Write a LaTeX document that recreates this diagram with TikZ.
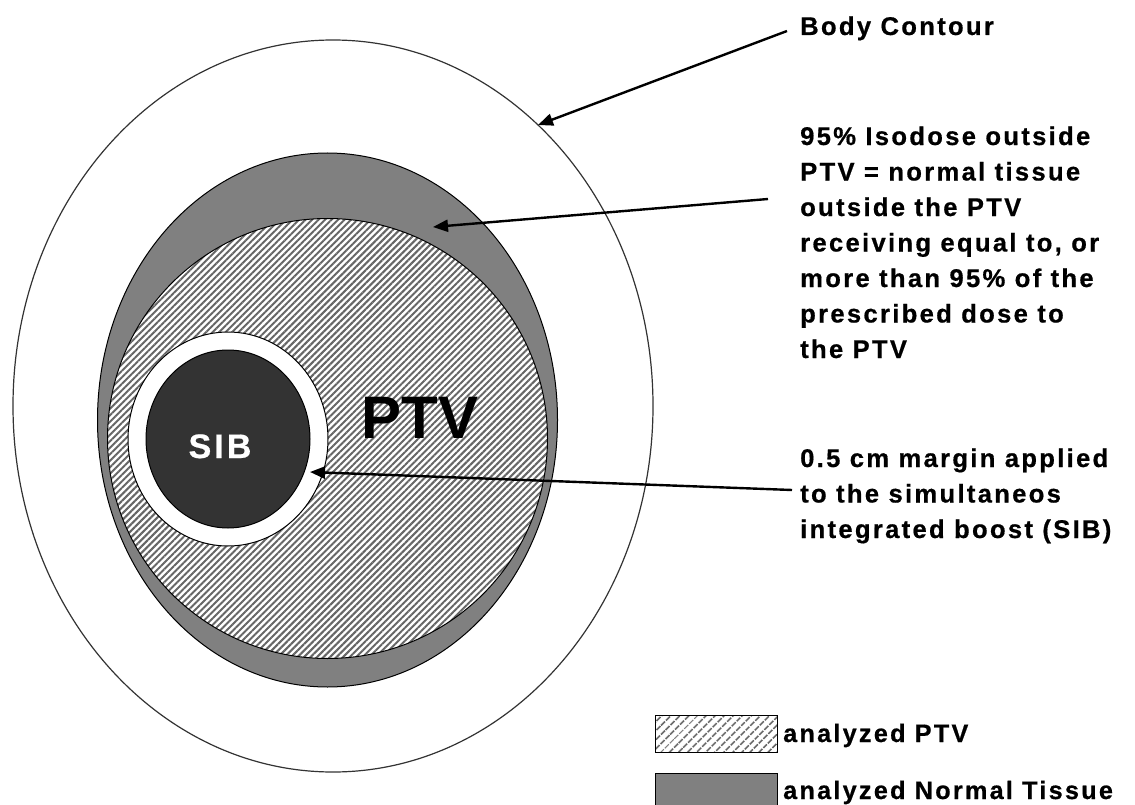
\documentclass[tikz,border=0pt]{standalone}
\usepackage{fontspec}
\setmainfont{Liberation Sans}
\newfontfamily\lblfont[LetterSpace=9, FakeBold=0.6]{Liberation Sans}
\usetikzlibrary{arrows.meta, patterns.meta, positioning}

\definecolor{isogray}{gray}{0.5}
\definecolor{sibgray}{gray}{0.2}

\begin{document}
\begin{tikzpicture}[
    x=1pt, y=-1pt,
    contour/.style={draw=black, line width=1pt},
    hatch/.style={preaction={fill=white},
                  pattern={Lines[angle=45, distance=4.6pt, line width=2pt]},
                  pattern color=black!60},
    leghatch/.style={preaction={fill=white},
                  pattern={Lines[angle=45, distance=6.4pt, line width=1.8pt]},
                  pattern color=black!60},
    lbl/.style={anchor=base west, inner sep=0pt, align=left,
                font=\lblfont\bfseries\fontsize{25.6}{35.5}\selectfont},
    leglbl/.style={anchor=base west, inner sep=0pt,
                font=\lblfont\bfseries\fontsize{25.2}{30}\selectfont},
    legbox/.style={draw=black, line width=1pt, minimum width=122pt,
                minimum height=37pt, inner sep=0pt, anchor=north west},
    arr/.style={-{Triangle[length=15pt, width=12pt]}, line width=2.4pt},
  ]
    \useasboundingbox (0,0) rectangle (1135,805);
    \draw[contour, draw=black!80, line width=1.2pt, fill=white]
      (333,406) ellipse [x radius=320, y radius=366];
    \draw[contour, fill=isogray] (327.5,420) ellipse [x radius=230, y radius=267];
    \draw[contour, hatch] (327.5,438.5) circle [radius=220];
    \draw[contour, fill=white] (228,439) ellipse [x radius=100, y radius=107];
    \draw[contour, fill=sibgray] (228,439) ellipse [x radius=82, y radius=89];
    \node[anchor=base, inner sep=0pt, font=\bfseries\fontsize{60}{60}\selectfont]
      (ptv) at (420,438) {PTV};
    \node[anchor=base, inner sep=0pt, text=white,
          font=\lblfont\bfseries\fontsize{34}{34}\selectfont]
      (sib) at (220,458) {SIB};
    \node[lbl] (body) at (800,35) {Body Contour};
    \node[lbl] (iso) at (800,358)
      {95\% Isodose outside\\PTV = normal tissue\\outside the PTV\\receiving equal to, or\\more than 95\% of the\\prescribed dose to\\the PTV};
    \node[lbl] (margin) at (800,538)
      {0.5 cm margin applied\\to the simultaneos\\integrated boost (SIB)};
    \coordinate (bodytail) at (787,31);
    \coordinate (bodytip) at (538,125);
    \coordinate (isotail) at (768,199);
    \coordinate (isotip) at (433,227);
    \coordinate (margintail) at (792,490);
    \coordinate (margintip) at (310,472);
    \draw[arr] (bodytail) -- (bodytip);
    \draw[arr] (isotail) -- (isotip);
    \draw[arr] (margintail) -- (margintip);
    \node[legbox, leghatch] (legptv) at (655,715) {};
    \node[legbox, fill=isogray] (legnt) at (655,773) {};
    \node[leglbl] (legptvtxt) at (783,742) {analyzed PTV};
    \node[leglbl] (legnttxt) at (783,799) {analyzed Normal Tissue};
  \end{tikzpicture}
\end{document}
